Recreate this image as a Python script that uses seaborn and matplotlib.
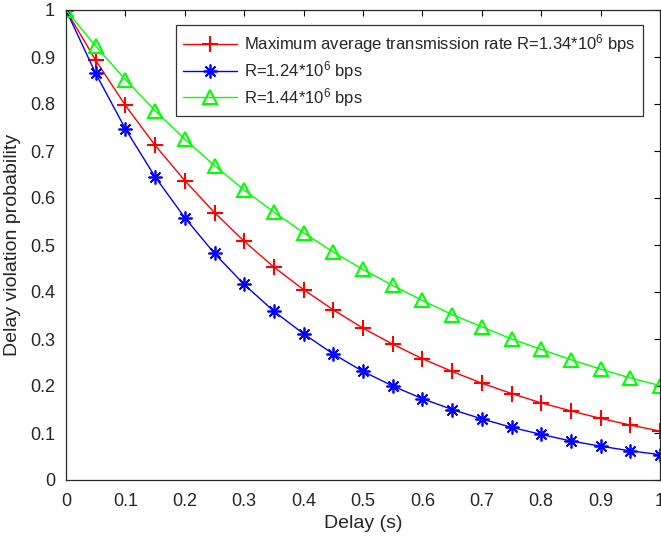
import numpy as np
import pandas as pd
import matplotlib
matplotlib.use("Agg")
import matplotlib.pyplot as plt
import seaborn as sns

delay = [0.00, 0.05, 0.10, 0.15, 0.20, 0.25, 0.30, 0.35, 0.40, 0.45, 0.50,
         0.55, 0.60, 0.65, 0.70, 0.75, 0.80, 0.85, 0.90, 0.95, 1.00]
prob_r134 = [1.000, 0.893, 0.797, 0.712, 0.637, 0.569, 0.508, 0.453, 0.405, 0.362, 0.323,
             0.289, 0.258, 0.231, 0.206, 0.184, 0.164, 0.147, 0.131, 0.117, 0.104]
prob_r124 = [1.000, 0.865, 0.747, 0.645, 0.558, 0.482, 0.416, 0.359, 0.311, 0.268, 0.231,
             0.200, 0.173, 0.150, 0.130, 0.112, 0.097, 0.083, 0.072, 0.062, 0.054]
prob_r144 = [1.000, 0.923, 0.852, 0.786, 0.725, 0.669, 0.617, 0.570, 0.526, 0.485, 0.448,
             0.414, 0.382, 0.352, 0.326, 0.300, 0.278, 0.256, 0.236, 0.217, 0.201]
labels = ["Maximum average transmission rate R=1.34*10$^6$ bps",
          "R=1.24*10$^6$ bps",
          "R=1.44*10$^6$ bps"]
xticks = [0, 0.1, 0.2, 0.3, 0.4, 0.5, 0.6, 0.7, 0.8, 0.9, 1]
yticks = [0, 0.1, 0.2, 0.3, 0.4, 0.5, 0.6, 0.7, 0.8, 0.9, 1]

sns.set_style("white")
plt.rcParams['font.family'] = ['Liberation Sans', 'DejaVu Sans']
plt.rcParams['mathtext.default'] = 'regular'

fig = plt.figure(figsize=(6.61, 5.45), dpi=100)
ax = fig.add_axes([66/661, 1-480/545, 594/661, 470/545])

df = pd.DataFrame({"delay": delay, "r134": prob_r134, "r124": prob_r124, "r144": prob_r144})

red, blue, green = (1, 0, 0), (0, 0, 1), (0, 1, 0)
sns.lineplot(data=df, x="delay", y="r134", ax=ax, color=red, lw=1.0,
             marker='+', markersize=11, markeredgewidth=1.5, markeredgecolor=red,
             label=labels[0])
sns.lineplot(data=df, x="delay", y="r124", ax=ax, color=blue, lw=1.0,
             marker=(8, 2, 0), markersize=10, markeredgewidth=1.25, markeredgecolor=blue,
             label=labels[1])
sns.lineplot(data=df, x="delay", y="r144", ax=ax, color=green, lw=1.0,
             marker='^', markersize=10.5, markeredgewidth=1.5, markerfacecolor='none',
             markeredgecolor=green, label=labels[2])

ax.set_xlim(0, 1)
ax.set_ylim(0, 1)
ax.set_xticks(xticks)
ax.set_yticks(yticks)
ax.set_xticklabels([f"{t:g}" for t in xticks])
ax.set_yticklabels([f"{t:g}" for t in yticks])
ax.tick_params(direction='in', length=4.5, width=0.8, top=True, right=True,
               labelsize=13, color='black')
ax.tick_params(axis='x', pad=9)
ax.tick_params(axis='y', pad=8)
for s in ax.spines.values():
    s.set_color((0.15, 0.15, 0.15))
    s.set_linewidth(0.9)
    s.set_visible(True)

ax.set_xlabel("Delay (s)", fontsize=14, labelpad=4)
ax.set_ylabel("Delay violation probability", fontsize=14, labelpad=6)

leg = ax.legend(loc='upper right', bbox_to_anchor=(0.9714, 0.968), borderaxespad=0,
                fontsize=12, frameon=True, fancybox=False, handlelength=3.25,
                borderpad=0.45, labelspacing=0.22, handletextpad=0.4)
leg.get_frame().set_edgecolor('black')
leg.get_frame().set_linewidth(0.9)

fig.savefig("out.png", dpi=100)
